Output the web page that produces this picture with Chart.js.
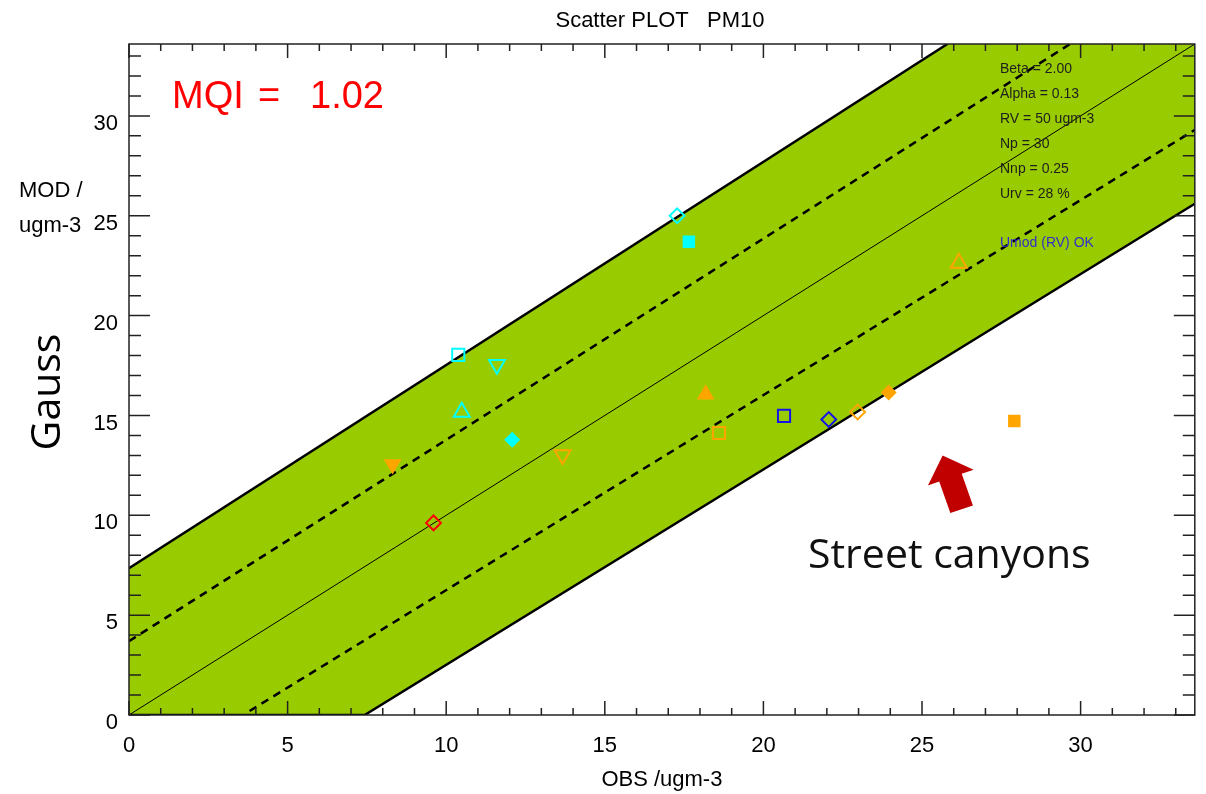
<!DOCTYPE html>
<html>
<head>
<meta charset="utf-8">
<script src="https://cdn.jsdelivr.net/npm/chart.js@4.4.1/dist/chart.umd.min.js"></script>
<style>
  html, body { margin: 0; padding: 0; background: #fff; }
  #wrap { width: 1206px; height: 794px; position: relative; }
</style>
</head>
<body>
<div id="wrap"><canvas id="scatterChart"></canvas></div>
<script>
/* ── axis range ── */
var axisMin = 0;
var axisMax = 33.6;

/* ── stations: observed vs modelled (ugm-3) ── */
var obsValues = [17.28, 17.65, 10.38, 11.60, 10.49, 12.08, 13.67, 18.18, 18.60, 20.65, 22.06, 22.97, 23.95, 27.91, 26.16, 8.31, 9.60];
var modValues = [25.00, 23.70, 18.03, 17.55, 15.17, 13.78, 13.03, 16.05, 14.12, 14.98, 14.80, 15.17, 16.15, 14.72, 22.63, 12.55, 9.62];
// marker look per station
var markerShape    = ['rectRot', 'rect', 'rect', 'triangle', 'triangle', 'rectRot', 'triangle', 'triangle', 'rect', 'rect', 'rectRot', 'rectRot', 'rectRot', 'rect', 'triangle', 'triangle', 'rectRot'];
var markerRotation = [0, 0, 0, 180, 0, 0, 180, 0, 0, 0, 0, 0, 0, 0, 0, 180, 0];
var markerFilled   = [0, 1, 0, 0, 0, 1, 0, 1, 0, 0, 0, 0, 1, 1, 0, 1, 0];
var markerColor    = ['#00FFFF', '#00FFFF', '#00FFFF', '#00FFFF', '#00FFFF', '#00FFFF', '#FFA500', '#FFA500', '#FFA500',
                      '#1414E6', '#1414E6', '#FFA500', '#FFA500', '#FFA500', '#FFA500', '#FFA500', '#FF0000'];

/* ── reference lines ── */
var oneToOneX  = [0, 33.6];
var oneToOneY  = [0, 33.6];
var dashUpperX = [0, 29.67];
var dashUpperY = [3.7, 33.6];
var dashLowerX = [3.8, 33.6];
var dashLowerY = [0.2, 29.3];
var bandUpperX = [0, 25.8];
var bandUpperY = [7.35, 33.6];
var bandLowerX = [0, 7.43, 33.6];
var bandLowerY = [0, 0, 25.6];

var statsLines = ['Beta = 2.00', 'Alpha = 0.13', 'RV = 50 ugm-3', 'Np = 30', 'Nnp = 0.25', 'Urv = 28 %'];
var statsNote = 'Umod (RV) OK';

function toPts(xs, ys) {
  return xs.map(function(x, i) { return { x: x, y: ys[i] }; });
}

// closed band outline: upper edge, top-right corner, lower edge back
var bandShape = toPts(bandUpperX, bandUpperY)
  .concat([{ x: axisMax, y: axisMax }])
  .concat(toPts(bandLowerX, bandLowerY).reverse());

function markerRadius(i) {
  var s = markerShape[i], f = markerFilled[i];
  if (s === 'rect') return f ? 7.4 : 8.6;
  if (s === 'rectRot') return f ? 6.6 : 7.4;
  return f ? 8.2 : 9.2;
}

/* ── frame, inward ticks and texts ── */
var decorPlugin = {
  id: 'decor',
  afterDatasetsDraw: function(chart) {
    var ctx = chart.ctx, a = chart.chartArea;
    var xs = chart.scales.x, ys = chart.scales.y;
    ctx.save();
    ctx.strokeStyle = '#222';
    ctx.lineWidth = 1.5;
    ctx.strokeRect(a.left, a.top, a.right - a.left, a.bottom - a.top);
    ctx.beginPath();
    for (var v = 0; v <= axisMax; v++) {
      var major = v % 5 === 0;
      var px = xs.getPixelForValue(v), py = ys.getPixelForValue(v);
      var lx = major ? 14 : 7, ly = major ? 21 : 12;
      ctx.moveTo(px, a.bottom); ctx.lineTo(px, a.bottom - lx);
      ctx.moveTo(px, a.top); ctx.lineTo(px, a.top + lx);
      ctx.moveTo(a.left, py); ctx.lineTo(a.left + ly, py);
      ctx.moveTo(a.right, py); ctx.lineTo(a.right - ly, py);
    }
    ctx.stroke();

    // statistics box
    ctx.textBaseline = 'middle';
    ctx.textAlign = 'left';
    ctx.font = '14px "Liberation Sans", Arial, sans-serif';
    ctx.fillStyle = '#1e1e1e';
    statsLines.forEach(function(t, i) {
      ctx.fillText(t, a.left + 871, a.top + 25 + i * 25);
    });
    ctx.fillStyle = '#3030C8';
    ctx.fillText(statsNote, a.left + 871, a.top + 199);

    // MQI
    ctx.textBaseline = 'alphabetic';
    ctx.fillStyle = '#FF0000';
    ctx.font = '38px "Liberation Sans", Arial, sans-serif';
    ctx.fillText('MQI', a.left + 43, a.top + 64);
    ctx.fillText('=', a.left + 129, a.top + 64);
    ctx.fillText('1.02', a.left + 181, a.top + 64);

    // street canyons arrow, tip anchored in data space
    var tx = xs.getPixelForValue(25.65), ty = ys.getPixelForValue(13.0);
    var arrow = [[0, 0], [31, 14.3], [19.1, 18.4], [30.3, 50], [7.7, 57.7], [-3.4, 26.1], [-14.7, 30]];
    ctx.fillStyle = '#C00000';
    ctx.beginPath();
    arrow.forEach(function(p, i) {
      if (i === 0) ctx.moveTo(tx + p[0], ty + p[1]); else ctx.lineTo(tx + p[0], ty + p[1]);
    });
    ctx.closePath();
    ctx.fill();
    ctx.restore();
  },
  afterDraw: function(chart) {
    var ctx = chart.ctx;
    ctx.save();
    ctx.fillStyle = '#000';
    ctx.textBaseline = 'alphabetic';
    ctx.font = '22px "Liberation Sans", Arial, sans-serif';
    ctx.textAlign = 'center';
    ctx.fillText('Scatter PLOT   PM10', 660, 27);
    ctx.textAlign = 'left';
    ctx.fillText('MOD /', 19, 197);
    ctx.fillText('ugm-3', 19, 232);

    ctx.font = '41px "Open Sans", sans-serif';
    ctx.fillStyle = '#111';
    ctx.fillText('Street canyons', 808, 568);

    ctx.translate(60, 392);
    ctx.rotate(-Math.PI / 2);
    ctx.textAlign = 'center';
    ctx.fillStyle = '#000';
    ctx.fillText('Gauss', 0, 0);
    ctx.restore();
  }
};

/* ── chart ── */
new Chart(document.getElementById('scatterChart').getContext('2d'), {
  type: 'scatter',
  data: {
    datasets: [{
      label: 'stations',
      data: toPts(obsValues, modValues),
      pointStyle: markerShape,
      pointRotation: markerRotation,
      pointRadius: obsValues.map(function(_, i) { return markerRadius(i); }),
      pointBackgroundColor: markerColor.map(function(c, i) { return markerFilled[i] ? c : 'rgba(0,0,0,0)'; }),
      pointBorderColor: markerColor,
      pointBorderWidth: 2,
      order: 0
    }, {
      label: '1:1',
      data: toPts(oneToOneX, oneToOneY),
      showLine: true, pointRadius: 0,
      borderColor: '#000', borderWidth: 1,
      order: 1
    }, {
      label: 'upper dashed',
      data: toPts(dashUpperX, dashUpperY),
      showLine: true, pointRadius: 0,
      borderColor: '#000', borderWidth: 2.5, borderDash: [8, 6],
      order: 1
    }, {
      label: 'lower dashed',
      data: toPts(dashLowerX, dashLowerY),
      showLine: true, pointRadius: 0,
      borderColor: '#000', borderWidth: 2.5, borderDash: [8, 6],
      order: 1
    }, {
      label: 'band upper',
      data: toPts(bandUpperX, bandUpperY),
      showLine: true, pointRadius: 0,
      borderColor: '#000', borderWidth: 2.5,
      order: 2
    }, {
      label: 'band lower',
      data: toPts(bandLowerX, bandLowerY),
      showLine: true, pointRadius: 0,
      borderColor: '#000', borderWidth: 2.5,
      order: 2
    }, {
      label: 'band',
      data: bandShape,
      showLine: true, pointRadius: 0,
      borderWidth: 0, borderColor: 'rgba(0,0,0,0)',
      backgroundColor: '#99CC00',
      fill: 'shape',
      order: 3
    }]
  },
  options: {
    responsive: true,
    maintainAspectRatio: false,
    animation: false,
    layout: { padding: { top: 44, right: 9, left: 0, bottom: 0 } },
    plugins: {
      legend: { display: false },
      tooltip: { enabled: false },
      title: { display: false }
    },
    scales: {
      x: {
        type: 'linear', min: axisMin, max: axisMax,
        grid: { display: false, drawTicks: false },
        border: { display: false },
        ticks: {
          stepSize: 5, includeBounds: false, padding: 18,
          color: '#000', font: { size: 22, family: '"Liberation Sans", Arial, sans-serif' }
        },
        title: {
          display: true, text: 'OBS /ugm-3', color: '#000',
          padding: { top: 0, bottom: 1 },
          font: { size: 22, family: '"Liberation Sans", Arial, sans-serif' }
        },
        afterFit: function(scale) { scale.height = 79; }
      },
      y: {
        type: 'linear', min: axisMin, max: axisMax,
        grid: { display: false, drawTicks: false },
        border: { display: false },
        ticks: {
          stepSize: 5, includeBounds: false, padding: 11, labelOffset: 8,
          color: '#000', font: { size: 22, family: '"Liberation Sans", Arial, sans-serif' }
        },
        afterFit: function(scale) { scale.width = 129; }
      }
    }
  },
  plugins: [decorPlugin]
});
</script>
</body>
</html>
